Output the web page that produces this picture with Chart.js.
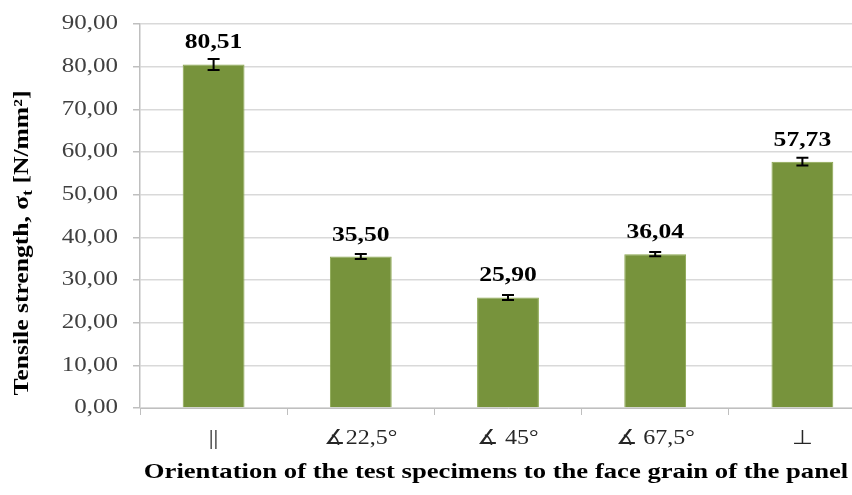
<!DOCTYPE html>
<html>
<head>
<meta charset="utf-8">
<script src="https://cdn.jsdelivr.net/npm/chart.js@4.4.1/dist/chart.umd.min.js"></script>
<style>
    html, body { margin: 0; padding: 0; background: #fff; overflow: hidden; }
    #wrap { width: 876px; height: 495px; }
</style>
</head>
<body>
<div id="wrap"><canvas id="strengthChart"></canvas></div>
<script>
// Orientations of the specimens and measured tensile strength (N/mm²)
const categories = ['||', '∡22,5°', '∡ 45°', '∡ 67,5°', '⊥'];
const strength = [80.51, 35.50, 25.90, 36.04, 57.73];
const deviation = [1.3, 0.6, 0.6, 0.5, 0.9];
const yMin = 0;
const yMax = 90;
const yStep = 10;

const serif = '"Liberation Serif", "Times New Roman", serif';

function fmt(v) {
    return v.toFixed(2).replace('.', ',');
}

// text is slightly widened, like the original export
function drawText(ctx, text, x, y, font, stretch, align, baseline, color) {
    ctx.save();
    ctx.translate(x, y);
    ctx.scale(stretch, 1);
    ctx.font = font;
    ctx.textAlign = align;
    ctx.textBaseline = baseline;
    ctx.fillStyle = color;
    ctx.fillText(text, 0, 0);
    ctx.restore();
}

const labelsPlugin = {
    id: 'labelsPlugin',
    afterDraw(chart) {
        const ctx = chart.ctx;
        const x = chart.scales.x;
        const y = chart.scales.y;
        const meta = chart.getDatasetMeta(0);

        // error bars
        ctx.save();
        ctx.strokeStyle = '#000';
        ctx.lineWidth = 2;
        meta.data.forEach(function(bar, i) {
            const top = y.getPixelForValue(strength[i] + deviation[i]);
            const bot = y.getPixelForValue(strength[i] - deviation[i]);
            ctx.beginPath();
            ctx.moveTo(bar.x, top);
            ctx.lineTo(bar.x, bot);
            ctx.moveTo(bar.x - 6, top);
            ctx.lineTo(bar.x + 6, top);
            ctx.moveTo(bar.x - 6, bot);
            ctx.lineTo(bar.x + 6, bot);
            ctx.stroke();
        });
        ctx.restore();

        // value labels
        meta.data.forEach(function(bar, i) {
            drawText(ctx, fmt(strength[i]), bar.x, y.getPixelForValue(strength[i]) - 16,
                'bold 21px ' + serif, 1.22, 'center', 'alphabetic', '#000');
        });

        // y tick labels
        for (let v = yMin; v <= yMax; v += yStep) {
            drawText(ctx, fmt(v), 118, y.getPixelForValue(v), '20px ' + serif, 1.25,
                'right', 'middle', '#404040');
        }

        // category labels
        categories.forEach(function(c, i) {
            drawText(ctx, c, x.getPixelForValue(i), 439, '20px ' + serif, 1.2,
                'center', 'middle', '#262626');
        });

        // x axis title
        drawText(ctx, 'Orientation of the test specimens to the face grain of the panel',
            496, 473, 'bold 21px ' + serif, 1.27, 'center', 'middle', '#000');

        // y axis title with subscript
        ctx.save();
        ctx.translate(23, 243);
        ctx.rotate(-Math.PI / 2);
        ctx.scale(1.22, 1);
        ctx.fillStyle = '#000';
        ctx.textBaseline = 'middle';
        const big = 'bold 21px ' + serif;
        const small = 'bold 14px ' + serif;
        const p1 = 'Tensile strength, σ';
        const p2 = 't';
        const p3 = ' [N/mm²]';
        ctx.font = big;
        const w1 = ctx.measureText(p1).width;
        const w3 = ctx.measureText(p3).width;
        ctx.font = small;
        const w2 = ctx.measureText(p2).width;
        let cx = -(w1 + w2 + w3) / 2;
        ctx.font = big;
        ctx.fillText(p1, cx, 0);
        cx += w1;
        ctx.font = small;
        ctx.fillText(p2, cx, 5);
        cx += w2;
        ctx.font = big;
        ctx.fillText(p3, cx, 0);
        ctx.restore();
    }
};

const ctx = document.getElementById('strengthChart').getContext('2d');
new Chart(ctx, {
    type: 'bar',
    data: {
        labels: categories,
        datasets: [{
            data: strength,
            backgroundColor: '#77933C',
            borderColor: '#8AA64E',
            borderWidth: 1,
            barPercentage: 0.42,
            categoryPercentage: 1
        }]
    },
    options: {
        responsive: true,
        maintainAspectRatio: false,
        animation: false,
        layout: { padding: { top: 24, left: 0, right: 0, bottom: 0 } },
        plugins: {
            legend: { display: false },
            tooltip: { enabled: false }
        },
        scales: {
            x: {
                afterFit: function(s) { s.height = 87; },
                ticks: { display: false },
                grid: {
                    offset: true,
                    drawOnChartArea: false,
                    tickLength: 7,
                    color: '#bfbfbf'
                },
                border: { color: '#bfbfbf', width: 1 }
            },
            y: {
                min: yMin,
                max: yMax,
                afterFit: function(s) { s.width = 140; },
                ticks: { display: false, stepSize: yStep },
                grid: {
                    color: '#d9d9d9',
                    lineWidth: 1.5,
                    tickLength: 7,
                    tickColor: '#bfbfbf'
                },
                border: { color: '#bfbfbf', width: 1.5 }
            }
        }
    },
    plugins: [labelsPlugin]
});
</script>
</body>
</html>
